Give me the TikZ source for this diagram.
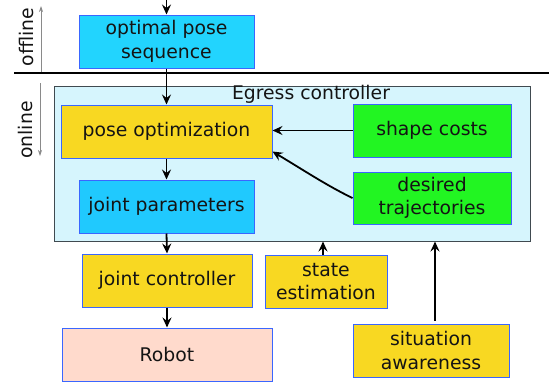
\documentclass[tikz,border=0pt]{standalone}
\usepackage{fontspec}
\setmainfont{DejaVu Sans}
\usetikzlibrary{arrows.meta,calc}

\definecolor{boxcyan}{HTML}{22D4FE}
\definecolor{boxgold}{HTML}{F8D822}
\definecolor{boxgreen}{HTML}{22F522}
\definecolor{boxpink}{HTML}{FFDACC}
\definecolor{egressbg}{HTML}{D6F5FD}
\definecolor{boxedge}{HTML}{3A66FF}
\definecolor{egressedge}{HTML}{404A50}
\definecolor{guide}{HTML}{8A8A8A}

\tikzset{
  block/.style={draw=boxedge, line width=1pt, inner sep=0pt, align=center,
    font=\fontsize{18.8}{23.5}\selectfont, text=black!92},
  cyanblock/.style={block, fill=boxcyan},
  goldblock/.style={block, fill=boxgold},
  greenblock/.style={block, fill=boxgreen},
  pinkblock/.style={block, fill=boxpink},
  flow/.style={draw=black, line width=1.8pt, -{Stealth[length=10pt,width=9pt,inset=3.5pt]}},
  phase/.style={font=\fontsize{18.8}{23.5}\selectfont, rotate=90, text=black!92},
  phasearrow/.style={draw=guide, line width=0.7pt, -{Stealth[length=6pt,width=4pt]}},
}

\begin{document}
\begin{tikzpicture}[x=1pt, y=-1pt]
  \useasboundingbox (0,0) rectangle (549,381);

  % controller container
  \node[draw=egressedge, fill=egressbg, line width=1pt, minimum width=476pt,
        minimum height=155pt, inner sep=0pt] (eg) at (292,163.5) {};
  \node[font=\fontsize{18.8}{23.5}\selectfont, text=black!92] (egl) at (311,94.5) {Egress controller};

  % blocks
  \node[cyanblock, minimum width=175pt, minimum height=53pt] (ops) at (166.5,41.5) {optimal pose\\sequence};
  \node[goldblock, minimum width=211pt, minimum height=53pt] (po) at (166.5,131.5) {pose optimization};
  \node[greenblock, minimum width=158pt, minimum height=53pt] (sc) at (432,130.5) {shape costs};
  \node[greenblock, minimum width=158pt, minimum height=52pt] (dt) at (432,198) {desired\\trajectories};
  \node[cyanblock, fill=boxcyan!95!blue, minimum width=175pt, minimum height=53pt] (jp) at (166.5,206.5) {joint parameters};
  \node[goldblock, minimum width=170pt, minimum height=53pt] (jc) at (167,280.5) {joint controller};
  \node[goldblock, minimum width=122pt, minimum height=53pt] (se) at (326,281.5) {state\\estimation};
  \node[pinkblock, minimum width=210pt, minimum height=53pt] (rb) at (167,354.5) {Robot};
  \node[goldblock, minimum width=156pt, minimum height=53pt] (sa) at (431,350.5) {situation\\awareness};

  % offline / online split
  \coordinate (sepL) at (14,73);
  \coordinate (sepR) at (549,73);
  \draw[line width=1.6pt] (sepL) -- (sepR);
  \node[phase] (offl) at (26,37) {offline};
  \node[phase] (onl) at (25,130) {online};
  \coordinate (offA) at (41,72);
  \coordinate (offB) at (41,6);
  \coordinate (onA) at (40,83);
  \coordinate (onB) at (40,156);
  \draw[phasearrow] (offA) -- (offB);
  \draw[phasearrow] (onA) -- (onB);

  % signal flow
  \coordinate (topin) at (166.5,-3);
  \draw[flow] (topin) -- (ops.north);
  \draw[flow] (ops.south) -- (po.north);
  \draw[flow] (po.south) -- (jp.north);
  \draw[flow] (jp.south) -- (jc.north);
  \draw[flow] (jc.south) -- (rb.north);
  \draw[flow] (sc.west) -- (sc.west -| po.east);
  \draw[flow] (dt.west) .. controls ($(dt.west)+(-25,-12)$) and ($([yshift=7pt]po.south east)+(30,18)$) .. ([yshift=7pt]po.south east);
  \draw[flow] ([xshift=-3pt]se.north) -- ([xshift=-3pt]se.north |- eg.south);
  \draw[flow] ([xshift=4pt,yshift=3pt]sa.north) -- ([xshift=4pt]sa.north |- eg.south);
\end{tikzpicture}
\end{document}
